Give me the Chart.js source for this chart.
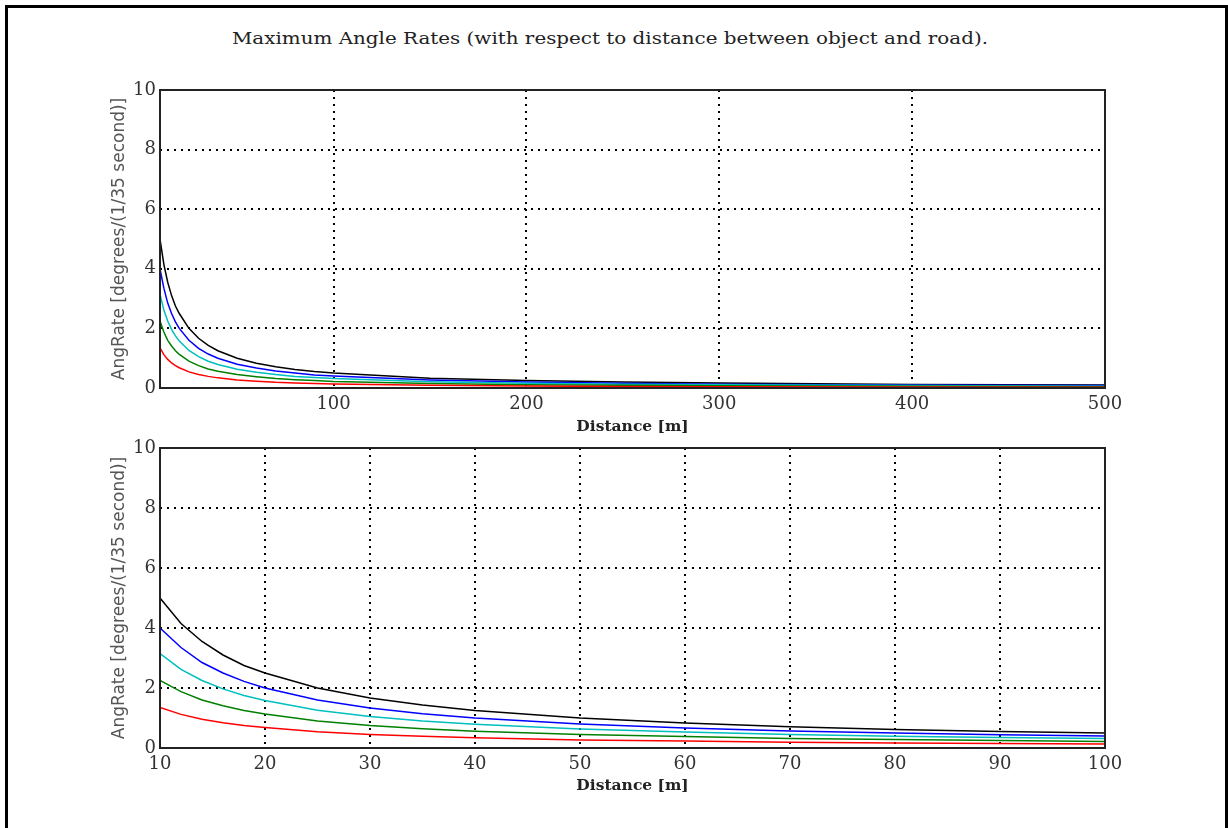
<!DOCTYPE html>
<html>
<head>
<meta charset="utf-8">
<script src="https://cdn.jsdelivr.net/npm/chart.js@4/dist/chart.umd.min.js"></script>
<style>
  html, body { margin: 0; padding: 0; background: #fff; }
  body { width: 1228px; height: 828px; position: relative; overflow: hidden; }
  #frame { position: absolute; left: 5px; top: 5px; width: 1223px; height: 900px; box-sizing: border-box; border: 3px solid #000; }
  #title { position: absolute; left: 232px; top: 26px; transform: scaleX(1.17); transform-origin: 0 0;
           font-family: "DejaVu Serif", serif; font-size: 17px; color: #222; line-height: 24px; white-space: nowrap; }
  canvas { position: absolute; }
  #c1 { left: 100px; top: 70px; }
  #c2 { left: 100px; top: 430px; }
</style>
</head>
<body>
<div id="frame"></div>
<div id="title">Maximum Angle Rates (with respect to distance between object and road).</div>
<canvas id="c1" width="1040" height="380"></canvas>
<canvas id="c2" width="1040" height="390"></canvas>
<script>
const distance = [10, 12, 14, 16, 18, 20, 25, 30, 35, 40, 50, 60, 70, 80, 90, 100, 150, 200, 250, 300, 400, 500];
// Angle rates [degrees/(1/35 second)]
const rateBlack = [5.0, 4.15, 3.55, 3.1, 2.75, 2.5, 2.0, 1.67, 1.43, 1.25, 1.0, 0.83, 0.71, 0.62, 0.55, 0.5, 0.33, 0.25, 0.2, 0.17, 0.12, 0.1];
const rateBlue  = [4.0, 3.35, 2.85, 2.5, 2.22, 2.0, 1.6, 1.33, 1.14, 1.0, 0.8, 0.67, 0.57, 0.5, 0.44, 0.4, 0.27, 0.2, 0.16, 0.13, 0.1, 0.08];
const rateCyan  = [3.15, 2.62, 2.25, 1.97, 1.75, 1.58, 1.26, 1.05, 0.9, 0.79, 0.63, 0.53, 0.45, 0.39, 0.35, 0.32, 0.21, 0.16, 0.13, 0.11, 0.08, 0.06];
const rateGreen = [2.25, 1.88, 1.6, 1.41, 1.25, 1.13, 0.9, 0.75, 0.64, 0.56, 0.45, 0.38, 0.32, 0.28, 0.25, 0.22, 0.15, 0.11, 0.09, 0.075, 0.056, 0.045];
const rateRed   = [1.35, 1.12, 0.96, 0.84, 0.75, 0.68, 0.54, 0.45, 0.39, 0.34, 0.27, 0.23, 0.19, 0.17, 0.15, 0.135, 0.09, 0.068, 0.054, 0.045, 0.034, 0.027];

const topXTicks = [100, 200, 300, 400, 500];
const bottomXTicks = [10, 20, 30, 40, 50, 60, 70, 80, 90, 100];
const yTicks = [0, 2, 4, 6, 8, 10];

const xTitle = 'Distance [m]';
const yTitle = 'AngRate [degrees/(1/35 second)]';

const seriesDefs = [
  { data: rateRed,   color: '#ff0000' },
  { data: rateGreen, color: '#008000' },
  { data: rateCyan,  color: '#00bfbf' },
  { data: rateBlue,  color: '#0000ff' },
  { data: rateBlack, color: '#000000' }
];

function makeDatasets() {
  return seriesDefs.map(s => ({
    data: distance.map((d, i) => ({ x: d, y: s.data[i] })),
    borderColor: s.color,
    borderWidth: 1.5,
    pointRadius: 0,
    tension: 0,
    fill: false
  }));
}

const boxPlugin = {
  id: 'box',
  afterDraw(chart) {
    const { ctx, chartArea: a } = chart;
    ctx.save();
    ctx.strokeStyle = '#222';
    ctx.lineWidth = 2;
    ctx.setLineDash([]);
    ctx.strokeRect(a.left, a.top, a.right - a.left, a.bottom - a.top);
    ctx.restore();
  }
};

function makeChart(id, xMin, xMax, xTicks, pad, xAxisHeight, xTitleBottomPad) {
  const gridOpts = { color: '#000', lineWidth: 2, drawTicks: false };
  const borderOpts = { display: false, dash: [2, 5] };
  return new Chart(document.getElementById(id), {
    type: 'line',
    data: { datasets: makeDatasets() },
    options: {
      responsive: false,
      animation: false,
      events: [],
      layout: { padding: { left: 0, right: 35, top: pad, bottom: 0 } },
      plugins: { legend: { display: false }, tooltip: { enabled: false }, title: { display: false } },
      scales: {
        x: {
          type: 'linear',
          min: xMin, max: xMax,
          afterBuildTicks: s => { s.ticks = xTicks.map(v => ({ value: v })); },
          afterFit: s => { s.height = xAxisHeight; },
          grid: gridOpts,
          border: borderOpts,
          ticks: { color: '#333', padding: 6, maxRotation: 0, autoSkip: false,
                   font: { family: 'DejaVu Serif', size: 18 } },
          title: { display: true, text: xTitle, color: '#222',
                   font: { family: 'DejaVu Serif', size: 15.5, weight: 'bold' },
                   padding: { top: 0, bottom: xTitleBottomPad } }
        },
        y: {
          type: 'linear',
          min: 0, max: 10,
          afterBuildTicks: s => { s.ticks = yTicks.map(v => ({ value: v })); },
          afterFit: s => { s.width = 60; },
          grid: gridOpts,
          border: borderOpts,
          ticks: { color: '#333', padding: 4, autoSkip: false,
                   font: { family: 'DejaVu Serif', size: 18 } },
          title: { display: true, text: yTitle, color: '#555',
                   font: { family: 'DejaVu Sans', size: 17 },
                   padding: { top: 9, bottom: 0 } }
        }
      }
    },
    plugins: [boxPlugin]
  });
}

makeChart('c1', 10, 500, topXTicks, 20, 62, 13.6);
makeChart('c2', 10, 100, bottomXTicks, 18, 72, 24.6);
</script>
</body>
</html>
